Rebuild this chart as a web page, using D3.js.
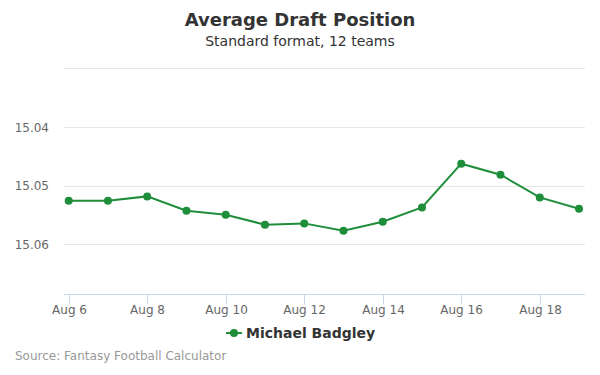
<!DOCTYPE html>
<html>
<head>
<meta charset="utf-8">
<script src="https://cdn.jsdelivr.net/npm/d3@7"></script>
<style>
  body { margin: 0; background: #fff; }
  svg { font-family: "DejaVu Sans", sans-serif; }
</style>
</head>
<body>
<div id="chart"></div>
<script>
// data
var days = [6, 7, 8, 9, 10, 11, 12, 13, 14, 15, 16, 17, 18, 19];
var adp = [15.05256, 15.05256, 15.05182, 15.05426, 15.05494, 15.05664, 15.05642,
           15.05767, 15.05613, 15.0537, 15.04625, 15.04813, 15.05199, 15.05392];
var yTicks = [15.03, 15.04, 15.05, 15.06];
var yLabels = ["15.04", "15.05", "15.06"];
var xTicks = [6, 8, 10, 12, 14, 16, 18];
var seriesName = "Michael Badgley";

var width = 600, height = 375;
var plot = {left: 64, right: 585, top: 68.3, bottom: 294.3};
var green = "#1f8e3a";

var svg = d3.select("#chart")
  .append("svg")
    .attr("width", width)
    .attr("height", height);

var x = d3.scaleLinear()
  .domain([6, 19])
  .range([68.7, 579]);

// reversed: lower pick on top
var y = d3.scaleLinear()
  .domain([15.03, 15.0685])
  .range([plot.top, plot.bottom]);

// title
svg.append("text")
  .attr("x", width / 2).attr("y", 26)
  .attr("text-anchor", "middle")
  .style("font-size", "18px").style("font-weight", "bold")
  .style("fill", "#333")
  .text("Average Draft Position");

svg.append("text")
  .attr("x", width / 2).attr("y", 46)
  .attr("text-anchor", "middle")
  .style("font-size", "14px")
  .style("fill", "#333")
  .text("Standard format, 12 teams");

// grid
svg.append("g")
  .selectAll("line")
  .data(yTicks)
  .enter()
  .append("line")
    .attr("x1", plot.left).attr("x2", plot.right)
    .attr("y1", function(d){ return Math.round(y(d)) + 0.5 })
    .attr("y2", function(d){ return Math.round(y(d)) + 0.5 })
    .attr("stroke", "#e6e6e6");

svg.append("g")
  .selectAll("text")
  .data(yLabels)
  .enter()
  .append("text")
    .attr("x", 49)
    .attr("y", function(d){ return y(+d) + 4.5 })
    .attr("text-anchor", "end")
    .style("font-size", "12px")
    .style("fill", "#666")
    .text(function(d){ return d });

// x axis
var xAxis = svg.append("g")
  .attr("transform", "translate(0," + (Math.round(plot.bottom) + 0.5) + ")");

xAxis.append("line")
  .attr("x1", plot.left).attr("x2", plot.right)
  .attr("stroke", "#ccd6eb");

var tick = xAxis.selectAll(".tick")
  .data(xTicks)
  .enter()
  .append("g")
    .attr("transform", function(d){ return "translate(" + (Math.round(x(d)) + 0.5) + ",0)" });

tick.append("line")
  .attr("y2", 10)
  .attr("stroke", "#ccd6eb");

tick.append("text")
  .attr("y", 19)
  .attr("text-anchor", "middle")
  .style("font-size", "12px")
  .style("fill", "#666")
  .text(function(d){ return "Aug " + d });

// series
var line = d3.line()
  .x(function(d, i){ return x(days[i]) })
  .y(function(d){ return y(d) });

svg.append("path")
  .datum(adp)
  .attr("d", line)
  .attr("fill", "none")
  .attr("stroke", green)
  .attr("stroke-width", 2);

svg.append("g")
  .selectAll("circle")
  .data(adp)
  .enter()
  .append("circle")
    .attr("cx", function(d, i){ return x(days[i]) })
    .attr("cy", function(d){ return y(d) })
    .attr("r", 4)
    .attr("fill", green);

// legend
var legend = svg.append("g")
  .attr("transform", "translate(226,333)");

legend.append("line")
  .attr("x1", 0).attr("x2", 16)
  .attr("stroke", green)
  .attr("stroke-width", 2);

legend.append("circle")
  .attr("cx", 8).attr("r", 4)
  .attr("fill", green);

legend.append("text")
  .attr("x", 20).attr("y", 5)
  .style("font-size", "14px").style("font-weight", "bold")
  .style("fill", "#333")
  .text(seriesName);

// credit
svg.append("text")
  .attr("x", 15).attr("y", 360)
  .style("font-size", "12px")
  .style("fill", "#999")
  .text("Source: Fantasy Football Calculator");
</script>
</body>
</html>
